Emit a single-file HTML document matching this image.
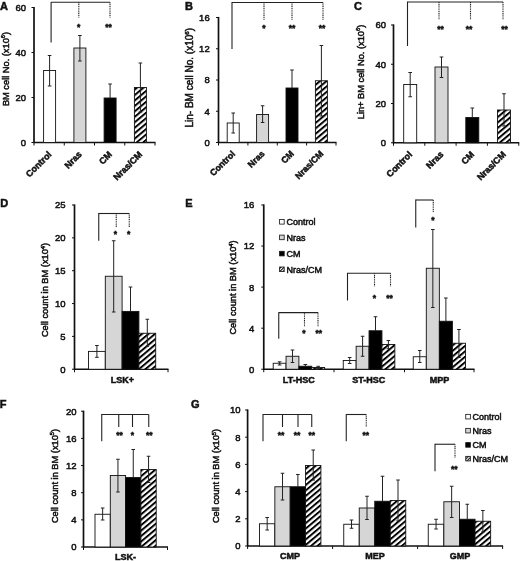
<!DOCTYPE html>
<html lang="en">
<head>
<meta charset="utf-8">
<title>Figure</title>
<style>
html,body{margin:0;padding:0;background:#fff;}
body{width:520px;height:561px;overflow:hidden;}
svg{display:block;filter:blur(0.4px);}
svg text{font-family:"Liberation Sans", Arial, sans-serif;fill:#111;stroke:#111;stroke-width:0.5px;}
</style>
</head>
<body>
<svg width="520" height="561" viewBox="0 0 520 561">
<defs>
<pattern id="hatch" patternUnits="userSpaceOnUse" width="4.17" height="4.17" patternTransform="rotate(-40)">
<rect x="0" y="0" width="4.17" height="4.17" fill="#fff"/>
<rect x="0" y="0" width="4.17" height="1.95" fill="#000"/>
</pattern>
<pattern id="hatch2" patternUnits="userSpaceOnUse" width="2.2" height="2.2" patternTransform="rotate(-45)">
<rect x="0" y="0" width="2.2" height="2.2" fill="#fff"/>
<rect x="0" y="0" width="2.2" height="1" fill="#000"/>
</pattern>
</defs>
<rect x="0" y="0" width="520" height="561" fill="#fff"/>
<text x="0.00" y="10.00" font-size="11" font-weight="bold" text-anchor="start">A</text>
<text x="185.00" y="10.00" font-size="11" font-weight="bold" text-anchor="start">B</text>
<text x="354.00" y="10.00" font-size="11" font-weight="bold" text-anchor="start">C</text>
<text x="0.30" y="207.30" font-size="11" font-weight="bold" text-anchor="start">D</text>
<text x="185.30" y="207.30" font-size="11" font-weight="bold" text-anchor="start">E</text>
<text x="-0.30" y="407.70" font-size="11" font-weight="bold" text-anchor="start">F</text>
<text x="191.00" y="407.70" font-size="11" font-weight="bold" text-anchor="start">G</text>
<line x1="34.00" y1="6.90" x2="34.00" y2="143.10" stroke="#111" stroke-width="1.7" stroke-linecap="butt"/>
<line x1="31.50" y1="7.50" x2="34.00" y2="7.50" stroke="#111" stroke-width="1.0" stroke-linecap="butt"/>
<text x="26.00" y="10.92" font-size="9.5" text-anchor="end">60</text>
<line x1="31.50" y1="52.50" x2="34.00" y2="52.50" stroke="#111" stroke-width="1.0" stroke-linecap="butt"/>
<text x="26.00" y="55.92" font-size="9.5" text-anchor="end">40</text>
<line x1="31.50" y1="97.50" x2="34.00" y2="97.50" stroke="#111" stroke-width="1.0" stroke-linecap="butt"/>
<text x="26.00" y="100.92" font-size="9.5" text-anchor="end">20</text>
<line x1="31.50" y1="142.50" x2="34.00" y2="142.50" stroke="#111" stroke-width="1.0" stroke-linecap="butt"/>
<text x="26.00" y="145.92" font-size="9.5" text-anchor="end">0</text>
<line x1="33.40" y1="142.50" x2="155.50" y2="142.50" stroke="#111" stroke-width="1.7" stroke-linecap="butt"/>
<line x1="34.00" y1="142.50" x2="34.00" y2="145.50" stroke="#111" stroke-width="1.0" stroke-linecap="butt"/>
<line x1="64.25" y1="142.50" x2="64.25" y2="145.50" stroke="#111" stroke-width="1.0" stroke-linecap="butt"/>
<line x1="94.50" y1="142.50" x2="94.50" y2="145.50" stroke="#111" stroke-width="1.0" stroke-linecap="butt"/>
<line x1="124.75" y1="142.50" x2="124.75" y2="145.50" stroke="#111" stroke-width="1.0" stroke-linecap="butt"/>
<line x1="155.00" y1="142.50" x2="155.00" y2="145.50" stroke="#111" stroke-width="1.0" stroke-linecap="butt"/>
<text x="8.70" y="69.00" font-size="9.25" text-anchor="middle" transform="rotate(-90 8.70 69.00)">BM cell No. (x10<tspan font-size="5.74" dy="-3.2">6</tspan><tspan dy="3.2">)</tspan></text>
<rect x="43.60" y="70.50" width="12.00" height="72.00" fill="#fff" stroke="#111" stroke-width="0.9"/>
<rect x="73.90" y="48.00" width="12.00" height="94.50" fill="#d6d6d6" stroke="#111" stroke-width="0.9"/>
<rect x="104.10" y="98.00" width="12.00" height="44.50" fill="#000" stroke="#111" stroke-width="0.9"/>
<rect x="134.40" y="87.50" width="12.00" height="55.00" fill="url(#hatch)" stroke="#111" stroke-width="0.9"/>
<line x1="49.60" y1="55.50" x2="49.60" y2="86.00" stroke="#222" stroke-width="1.0" stroke-linecap="butt"/>
<line x1="47.80" y1="55.50" x2="51.40" y2="55.50" stroke="#222" stroke-width="1.0" stroke-linecap="butt"/>
<line x1="47.80" y1="86.00" x2="51.40" y2="86.00" stroke="#222" stroke-width="1.0" stroke-linecap="butt"/>
<line x1="79.90" y1="35.50" x2="79.90" y2="61.00" stroke="#222" stroke-width="1.0" stroke-linecap="butt"/>
<line x1="78.10" y1="35.50" x2="81.70" y2="35.50" stroke="#222" stroke-width="1.0" stroke-linecap="butt"/>
<line x1="78.10" y1="61.00" x2="81.70" y2="61.00" stroke="#222" stroke-width="1.0" stroke-linecap="butt"/>
<line x1="110.10" y1="84.00" x2="110.10" y2="98.00" stroke="#222" stroke-width="1.0" stroke-linecap="butt"/>
<line x1="108.30" y1="84.00" x2="111.90" y2="84.00" stroke="#222" stroke-width="1.0" stroke-linecap="butt"/>
<line x1="140.40" y1="63.00" x2="140.40" y2="112.00" stroke="#222" stroke-width="1.0" stroke-linecap="butt"/>
<line x1="138.60" y1="63.00" x2="142.20" y2="63.00" stroke="#222" stroke-width="1.0" stroke-linecap="butt"/>
<line x1="138.60" y1="112.00" x2="142.20" y2="112.00" stroke="#222" stroke-width="1.0" stroke-linecap="butt"/>
<line x1="51.10" y1="2.30" x2="110.00" y2="2.30" stroke="#222" stroke-width="1.1" stroke-linecap="butt"/>
<line x1="51.10" y1="1.90" x2="51.10" y2="42.50" stroke="#222" stroke-width="1.1" stroke-linecap="butt"/>
<line x1="78.80" y1="2.30" x2="78.80" y2="17.50" stroke="#222" stroke-width="1.1" stroke-dasharray="1.1 0.7" stroke-linecap="butt"/>
<line x1="110.00" y1="2.30" x2="110.00" y2="17.50" stroke="#222" stroke-width="1.1" stroke-dasharray="1.1 0.7" stroke-linecap="butt"/>
<text x="78.60" y="30.10" font-size="8.5" font-weight="bold" text-anchor="middle" stroke-width="0">*</text>
<text x="108.50" y="30.10" font-size="8.5" font-weight="bold" text-anchor="middle" stroke-width="0">**</text>
<text x="52.10" y="155.00" font-size="9" font-weight="bold" text-anchor="end" transform="rotate(-45 52.10 155.00)">Control</text>
<text x="82.40" y="155.00" font-size="9" font-weight="bold" text-anchor="end" transform="rotate(-45 82.40 155.00)">Nras</text>
<text x="112.60" y="155.00" font-size="9" font-weight="bold" text-anchor="end" transform="rotate(-45 112.60 155.00)">CM</text>
<text x="142.90" y="155.00" font-size="9" font-weight="bold" text-anchor="end" transform="rotate(-45 142.90 155.00)">Nras/CM</text>
<line x1="218.50" y1="16.90" x2="218.50" y2="143.10" stroke="#111" stroke-width="1.7" stroke-linecap="butt"/>
<line x1="216.00" y1="17.50" x2="218.50" y2="17.50" stroke="#111" stroke-width="1.0" stroke-linecap="butt"/>
<text x="209.70" y="20.92" font-size="9.5" text-anchor="end">16</text>
<line x1="216.00" y1="48.75" x2="218.50" y2="48.75" stroke="#111" stroke-width="1.0" stroke-linecap="butt"/>
<text x="209.70" y="52.17" font-size="9.5" text-anchor="end">12</text>
<line x1="216.00" y1="80.00" x2="218.50" y2="80.00" stroke="#111" stroke-width="1.0" stroke-linecap="butt"/>
<text x="209.70" y="83.42" font-size="9.5" text-anchor="end">8</text>
<line x1="216.00" y1="111.25" x2="218.50" y2="111.25" stroke="#111" stroke-width="1.0" stroke-linecap="butt"/>
<text x="209.70" y="114.67" font-size="9.5" text-anchor="end">4</text>
<line x1="216.00" y1="142.50" x2="218.50" y2="142.50" stroke="#111" stroke-width="1.0" stroke-linecap="butt"/>
<text x="209.70" y="145.92" font-size="9.5" text-anchor="end">0</text>
<line x1="217.90" y1="142.50" x2="336.50" y2="142.50" stroke="#111" stroke-width="1.7" stroke-linecap="butt"/>
<line x1="218.50" y1="142.50" x2="218.50" y2="145.50" stroke="#111" stroke-width="1.0" stroke-linecap="butt"/>
<line x1="247.90" y1="142.50" x2="247.90" y2="145.50" stroke="#111" stroke-width="1.0" stroke-linecap="butt"/>
<line x1="277.30" y1="142.50" x2="277.30" y2="145.50" stroke="#111" stroke-width="1.0" stroke-linecap="butt"/>
<line x1="306.60" y1="142.50" x2="306.60" y2="145.50" stroke="#111" stroke-width="1.0" stroke-linecap="butt"/>
<line x1="336.00" y1="142.50" x2="336.00" y2="145.50" stroke="#111" stroke-width="1.0" stroke-linecap="butt"/>
<text x="192.70" y="77.75" font-size="10" text-anchor="middle" transform="rotate(-90 192.70 77.75)">Lin- BM cell No. (x10<tspan font-size="6.20" dy="-3.2">6</tspan><tspan dy="3.2">)</tspan></text>
<rect x="227.20" y="123.00" width="12.00" height="19.50" fill="#fff" stroke="#111" stroke-width="0.9"/>
<rect x="256.60" y="114.50" width="12.00" height="28.00" fill="#d6d6d6" stroke="#111" stroke-width="0.9"/>
<rect x="286.00" y="88.00" width="12.00" height="54.50" fill="#000" stroke="#111" stroke-width="0.9"/>
<rect x="315.40" y="80.75" width="12.00" height="61.75" fill="url(#hatch)" stroke="#111" stroke-width="0.9"/>
<line x1="233.20" y1="113.00" x2="233.20" y2="133.00" stroke="#222" stroke-width="1.0" stroke-linecap="butt"/>
<line x1="231.40" y1="113.00" x2="235.00" y2="113.00" stroke="#222" stroke-width="1.0" stroke-linecap="butt"/>
<line x1="231.40" y1="133.00" x2="235.00" y2="133.00" stroke="#222" stroke-width="1.0" stroke-linecap="butt"/>
<line x1="262.60" y1="105.75" x2="262.60" y2="122.50" stroke="#222" stroke-width="1.0" stroke-linecap="butt"/>
<line x1="260.80" y1="105.75" x2="264.40" y2="105.75" stroke="#222" stroke-width="1.0" stroke-linecap="butt"/>
<line x1="260.80" y1="122.50" x2="264.40" y2="122.50" stroke="#222" stroke-width="1.0" stroke-linecap="butt"/>
<line x1="292.00" y1="70.00" x2="292.00" y2="88.00" stroke="#222" stroke-width="1.0" stroke-linecap="butt"/>
<line x1="290.20" y1="70.00" x2="293.80" y2="70.00" stroke="#222" stroke-width="1.0" stroke-linecap="butt"/>
<line x1="321.40" y1="45.50" x2="321.40" y2="116.00" stroke="#222" stroke-width="1.0" stroke-linecap="butt"/>
<line x1="319.60" y1="45.50" x2="323.20" y2="45.50" stroke="#222" stroke-width="1.0" stroke-linecap="butt"/>
<line x1="319.60" y1="116.00" x2="323.20" y2="116.00" stroke="#222" stroke-width="1.0" stroke-linecap="butt"/>
<line x1="232.00" y1="2.50" x2="323.00" y2="2.50" stroke="#222" stroke-width="1.1" stroke-linecap="butt"/>
<line x1="232.00" y1="2.10" x2="232.00" y2="49.00" stroke="#222" stroke-width="1.1" stroke-linecap="butt"/>
<line x1="264.00" y1="2.50" x2="264.00" y2="20.00" stroke="#222" stroke-width="1.1" stroke-dasharray="1.1 0.7" stroke-linecap="butt"/>
<line x1="292.00" y1="2.50" x2="292.00" y2="20.00" stroke="#222" stroke-width="1.1" stroke-dasharray="1.1 0.7" stroke-linecap="butt"/>
<line x1="323.00" y1="2.50" x2="323.00" y2="20.00" stroke="#222" stroke-width="1.1" stroke-dasharray="1.1 0.7" stroke-linecap="butt"/>
<text x="264.00" y="30.60" font-size="8.5" font-weight="bold" text-anchor="middle" stroke-width="0">*</text>
<text x="292.00" y="30.60" font-size="8.5" font-weight="bold" text-anchor="middle" stroke-width="0">**</text>
<text x="322.00" y="30.60" font-size="8.5" font-weight="bold" text-anchor="middle" stroke-width="0">**</text>
<text x="235.70" y="154.40" font-size="8.8" font-weight="bold" text-anchor="end" transform="rotate(-45 235.70 154.40)">Control</text>
<text x="265.10" y="154.40" font-size="8.8" font-weight="bold" text-anchor="end" transform="rotate(-45 265.10 154.40)">Nras</text>
<text x="294.50" y="154.40" font-size="8.8" font-weight="bold" text-anchor="end" transform="rotate(-45 294.50 154.40)">CM</text>
<text x="323.90" y="154.40" font-size="8.8" font-weight="bold" text-anchor="end" transform="rotate(-45 323.90 154.40)">Nras/CM</text>
<line x1="393.50" y1="24.40" x2="393.50" y2="143.35" stroke="#111" stroke-width="1.7" stroke-linecap="butt"/>
<line x1="391.00" y1="25.00" x2="393.50" y2="25.00" stroke="#111" stroke-width="1.0" stroke-linecap="butt"/>
<text x="386.00" y="28.42" font-size="9.5" text-anchor="end">60</text>
<line x1="391.00" y1="64.25" x2="393.50" y2="64.25" stroke="#111" stroke-width="1.0" stroke-linecap="butt"/>
<text x="386.00" y="67.67" font-size="9.5" text-anchor="end">40</text>
<line x1="391.00" y1="103.50" x2="393.50" y2="103.50" stroke="#111" stroke-width="1.0" stroke-linecap="butt"/>
<text x="386.00" y="106.92" font-size="9.5" text-anchor="end">20</text>
<line x1="391.00" y1="142.75" x2="393.50" y2="142.75" stroke="#111" stroke-width="1.0" stroke-linecap="butt"/>
<text x="386.00" y="146.17" font-size="9.5" text-anchor="end">0</text>
<line x1="392.90" y1="142.75" x2="519.25" y2="142.75" stroke="#111" stroke-width="1.7" stroke-linecap="butt"/>
<line x1="393.50" y1="142.75" x2="393.50" y2="145.75" stroke="#111" stroke-width="1.0" stroke-linecap="butt"/>
<line x1="424.80" y1="142.75" x2="424.80" y2="145.75" stroke="#111" stroke-width="1.0" stroke-linecap="butt"/>
<line x1="456.10" y1="142.75" x2="456.10" y2="145.75" stroke="#111" stroke-width="1.0" stroke-linecap="butt"/>
<line x1="487.40" y1="142.75" x2="487.40" y2="145.75" stroke="#111" stroke-width="1.0" stroke-linecap="butt"/>
<line x1="518.75" y1="142.75" x2="518.75" y2="145.75" stroke="#111" stroke-width="1.0" stroke-linecap="butt"/>
<text x="363.50" y="72.00" font-size="9.25" text-anchor="middle" transform="rotate(-90 363.50 72.00)">Lin+ BM cell No. (x10<tspan font-size="5.74" dy="-3.2">6</tspan><tspan dy="3.2">)</tspan></text>
<rect x="403.70" y="84.50" width="13.00" height="58.25" fill="#fff" stroke="#111" stroke-width="0.9"/>
<rect x="435.00" y="67.00" width="13.00" height="75.75" fill="#d6d6d6" stroke="#111" stroke-width="0.9"/>
<rect x="465.80" y="117.50" width="13.00" height="25.25" fill="#000" stroke="#111" stroke-width="0.9"/>
<rect x="497.50" y="110.00" width="13.00" height="32.75" fill="url(#hatch)" stroke="#111" stroke-width="0.9"/>
<line x1="410.20" y1="72.50" x2="410.20" y2="96.75" stroke="#222" stroke-width="1.0" stroke-linecap="butt"/>
<line x1="408.40" y1="72.50" x2="412.00" y2="72.50" stroke="#222" stroke-width="1.0" stroke-linecap="butt"/>
<line x1="408.40" y1="96.75" x2="412.00" y2="96.75" stroke="#222" stroke-width="1.0" stroke-linecap="butt"/>
<line x1="441.50" y1="57.00" x2="441.50" y2="77.50" stroke="#222" stroke-width="1.0" stroke-linecap="butt"/>
<line x1="439.70" y1="57.00" x2="443.30" y2="57.00" stroke="#222" stroke-width="1.0" stroke-linecap="butt"/>
<line x1="439.70" y1="77.50" x2="443.30" y2="77.50" stroke="#222" stroke-width="1.0" stroke-linecap="butt"/>
<line x1="472.30" y1="108.00" x2="472.30" y2="117.50" stroke="#222" stroke-width="1.0" stroke-linecap="butt"/>
<line x1="470.50" y1="108.00" x2="474.10" y2="108.00" stroke="#222" stroke-width="1.0" stroke-linecap="butt"/>
<line x1="504.00" y1="93.75" x2="504.00" y2="126.00" stroke="#222" stroke-width="1.0" stroke-linecap="butt"/>
<line x1="502.20" y1="93.75" x2="505.80" y2="93.75" stroke="#222" stroke-width="1.0" stroke-linecap="butt"/>
<line x1="502.20" y1="126.00" x2="505.80" y2="126.00" stroke="#222" stroke-width="1.0" stroke-linecap="butt"/>
<line x1="407.50" y1="2.00" x2="503.00" y2="2.00" stroke="#222" stroke-width="1.1" stroke-linecap="butt"/>
<line x1="407.50" y1="1.60" x2="407.50" y2="46.00" stroke="#222" stroke-width="1.1" stroke-linecap="butt"/>
<line x1="439.00" y1="2.00" x2="439.00" y2="19.50" stroke="#222" stroke-width="1.1" stroke-dasharray="1.1 0.7" stroke-linecap="butt"/>
<line x1="470.50" y1="2.00" x2="470.50" y2="19.50" stroke="#222" stroke-width="1.1" stroke-dasharray="1.1 0.7" stroke-linecap="butt"/>
<line x1="503.00" y1="2.00" x2="503.00" y2="19.50" stroke="#222" stroke-width="1.1" stroke-dasharray="1.1 0.7" stroke-linecap="butt"/>
<text x="440.50" y="31.60" font-size="8.5" font-weight="bold" text-anchor="middle" stroke-width="0">**</text>
<text x="469.00" y="31.60" font-size="8.5" font-weight="bold" text-anchor="middle" stroke-width="0">**</text>
<text x="504.50" y="31.60" font-size="8.5" font-weight="bold" text-anchor="middle" stroke-width="0">**</text>
<text x="412.70" y="155.00" font-size="9" font-weight="bold" text-anchor="end" transform="rotate(-45 412.70 155.00)">Control</text>
<text x="444.00" y="155.00" font-size="9" font-weight="bold" text-anchor="end" transform="rotate(-45 444.00 155.00)">Nras</text>
<text x="474.80" y="155.00" font-size="9" font-weight="bold" text-anchor="end" transform="rotate(-45 474.80 155.00)">CM</text>
<text x="506.50" y="155.00" font-size="9" font-weight="bold" text-anchor="end" transform="rotate(-45 506.50 155.00)">Nras/CM</text>
<line x1="74.50" y1="204.40" x2="74.50" y2="369.85" stroke="#111" stroke-width="1.7" stroke-linecap="butt"/>
<line x1="72.00" y1="205.00" x2="74.50" y2="205.00" stroke="#111" stroke-width="1.0" stroke-linecap="butt"/>
<text x="65.50" y="208.42" font-size="9.5" text-anchor="end">25</text>
<line x1="72.00" y1="237.85" x2="74.50" y2="237.85" stroke="#111" stroke-width="1.0" stroke-linecap="butt"/>
<text x="65.50" y="241.27" font-size="9.5" text-anchor="end">20</text>
<line x1="72.00" y1="270.70" x2="74.50" y2="270.70" stroke="#111" stroke-width="1.0" stroke-linecap="butt"/>
<text x="65.50" y="274.12" font-size="9.5" text-anchor="end">15</text>
<line x1="72.00" y1="303.55" x2="74.50" y2="303.55" stroke="#111" stroke-width="1.0" stroke-linecap="butt"/>
<text x="65.50" y="306.97" font-size="9.5" text-anchor="end">10</text>
<line x1="72.00" y1="336.40" x2="74.50" y2="336.40" stroke="#111" stroke-width="1.0" stroke-linecap="butt"/>
<text x="65.50" y="339.82" font-size="9.5" text-anchor="end">5</text>
<line x1="72.00" y1="369.25" x2="74.50" y2="369.25" stroke="#111" stroke-width="1.0" stroke-linecap="butt"/>
<text x="65.50" y="372.67" font-size="9.5" text-anchor="end">0</text>
<line x1="73.90" y1="369.25" x2="168.50" y2="369.25" stroke="#111" stroke-width="1.7" stroke-linecap="butt"/>
<line x1="74.50" y1="369.25" x2="74.50" y2="372.25" stroke="#111" stroke-width="1.0" stroke-linecap="butt"/>
<line x1="168.00" y1="369.25" x2="168.00" y2="372.25" stroke="#111" stroke-width="1.0" stroke-linecap="butt"/>
<text x="48.00" y="290.00" font-size="9.25" text-anchor="middle" transform="rotate(-90 48.00 290.00)">Cell count in BM (x10<tspan font-size="5.74" dy="-3.2">4</tspan><tspan dy="3.2">)</tspan></text>
<rect x="88.50" y="351.40" width="16.80" height="17.85" fill="#fff" stroke="#111" stroke-width="0.9"/>
<rect x="105.30" y="276.25" width="16.80" height="93.00" fill="#d6d6d6" stroke="#111" stroke-width="0.9"/>
<rect x="122.10" y="311.40" width="16.80" height="57.85" fill="#000" stroke="#111" stroke-width="0.9"/>
<rect x="138.90" y="333.25" width="16.80" height="36.00" fill="url(#hatch)" stroke="#111" stroke-width="0.9"/>
<line x1="96.90" y1="345.50" x2="96.90" y2="357.30" stroke="#222" stroke-width="1.0" stroke-linecap="butt"/>
<line x1="95.10" y1="345.50" x2="98.70" y2="345.50" stroke="#222" stroke-width="1.0" stroke-linecap="butt"/>
<line x1="95.10" y1="357.30" x2="98.70" y2="357.30" stroke="#222" stroke-width="1.0" stroke-linecap="butt"/>
<line x1="113.70" y1="240.75" x2="113.70" y2="312.00" stroke="#222" stroke-width="1.0" stroke-linecap="butt"/>
<line x1="111.90" y1="240.75" x2="115.50" y2="240.75" stroke="#222" stroke-width="1.0" stroke-linecap="butt"/>
<line x1="111.90" y1="312.00" x2="115.50" y2="312.00" stroke="#222" stroke-width="1.0" stroke-linecap="butt"/>
<line x1="130.50" y1="287.00" x2="130.50" y2="311.40" stroke="#222" stroke-width="1.0" stroke-linecap="butt"/>
<line x1="128.70" y1="287.00" x2="132.30" y2="287.00" stroke="#222" stroke-width="1.0" stroke-linecap="butt"/>
<line x1="147.30" y1="319.25" x2="147.30" y2="346.25" stroke="#222" stroke-width="1.0" stroke-linecap="butt"/>
<line x1="145.50" y1="319.25" x2="149.10" y2="319.25" stroke="#222" stroke-width="1.0" stroke-linecap="butt"/>
<line x1="145.50" y1="346.25" x2="149.10" y2="346.25" stroke="#222" stroke-width="1.0" stroke-linecap="butt"/>
<line x1="98.75" y1="213.50" x2="129.25" y2="213.50" stroke="#222" stroke-width="1.1" stroke-linecap="butt"/>
<line x1="98.75" y1="213.10" x2="98.75" y2="240.75" stroke="#222" stroke-width="1.1" stroke-linecap="butt"/>
<line x1="116.25" y1="213.50" x2="116.25" y2="227.00" stroke="#222" stroke-width="1.1" stroke-dasharray="1.1 0.7" stroke-linecap="butt"/>
<line x1="129.25" y1="213.50" x2="129.25" y2="227.00" stroke="#222" stroke-width="1.1" stroke-dasharray="1.1 0.7" stroke-linecap="butt"/>
<text x="115.50" y="237.10" font-size="8.5" font-weight="bold" text-anchor="middle" stroke-width="0">*</text>
<text x="128.75" y="237.10" font-size="8.5" font-weight="bold" text-anchor="middle" stroke-width="0">*</text>
<text x="122.50" y="383.30" font-size="9" font-weight="bold" text-anchor="middle">LSK+</text>
<line x1="263.75" y1="204.40" x2="263.75" y2="369.85" stroke="#111" stroke-width="1.7" stroke-linecap="butt"/>
<line x1="261.25" y1="205.00" x2="263.75" y2="205.00" stroke="#111" stroke-width="1.0" stroke-linecap="butt"/>
<text x="254.30" y="208.42" font-size="9.5" text-anchor="end">16</text>
<line x1="261.25" y1="246.05" x2="263.75" y2="246.05" stroke="#111" stroke-width="1.0" stroke-linecap="butt"/>
<text x="254.30" y="249.47" font-size="9.5" text-anchor="end">12</text>
<line x1="261.25" y1="287.10" x2="263.75" y2="287.10" stroke="#111" stroke-width="1.0" stroke-linecap="butt"/>
<text x="254.30" y="290.52" font-size="9.5" text-anchor="end">8</text>
<line x1="261.25" y1="328.20" x2="263.75" y2="328.20" stroke="#111" stroke-width="1.0" stroke-linecap="butt"/>
<text x="254.30" y="331.62" font-size="9.5" text-anchor="end">4</text>
<line x1="261.25" y1="369.25" x2="263.75" y2="369.25" stroke="#111" stroke-width="1.0" stroke-linecap="butt"/>
<text x="254.30" y="372.67" font-size="9.5" text-anchor="end">0</text>
<line x1="263.15" y1="369.25" x2="474.50" y2="369.25" stroke="#111" stroke-width="1.7" stroke-linecap="butt"/>
<line x1="263.75" y1="369.25" x2="263.75" y2="372.25" stroke="#111" stroke-width="1.0" stroke-linecap="butt"/>
<line x1="334.00" y1="369.25" x2="334.00" y2="372.25" stroke="#111" stroke-width="1.0" stroke-linecap="butt"/>
<line x1="404.50" y1="369.25" x2="404.50" y2="372.25" stroke="#111" stroke-width="1.0" stroke-linecap="butt"/>
<line x1="474.00" y1="369.25" x2="474.00" y2="372.25" stroke="#111" stroke-width="1.0" stroke-linecap="butt"/>
<text x="236.30" y="287.50" font-size="9.25" text-anchor="middle" transform="rotate(-90 236.30 287.50)">Cell count in BM (x10<tspan font-size="5.74" dy="-3.2">4</tspan><tspan dy="3.2">)</tspan></text>
<rect x="279.60" y="219.50" width="4.6" height="4.6" fill="#fff" stroke="#111" stroke-width="0.8"/>
<text x="286.50" y="225.14" font-size="9" text-anchor="start">Control</text>
<rect x="279.60" y="235.10" width="4.6" height="4.6" fill="#d6d6d6" stroke="#111" stroke-width="0.8"/>
<text x="286.50" y="240.74" font-size="9" text-anchor="start">Nras</text>
<rect x="279.60" y="251.30" width="4.6" height="4.6" fill="#000" stroke="#111" stroke-width="0.8"/>
<text x="286.50" y="256.94" font-size="9" text-anchor="start">CM</text>
<rect x="279.60" y="267.00" width="4.6" height="4.6" fill="url(#hatch2)" stroke="#111" stroke-width="0.8"/>
<text x="286.50" y="272.64" font-size="9" text-anchor="start">Nras/CM</text>
<rect x="273.20" y="363.25" width="12.85" height="6.00" fill="#fff" stroke="#111" stroke-width="0.9"/>
<rect x="286.05" y="356.25" width="12.85" height="13.00" fill="#d6d6d6" stroke="#111" stroke-width="0.9"/>
<rect x="298.90" y="366.25" width="12.85" height="3.00" fill="#000" stroke="#111" stroke-width="0.9"/>
<rect x="311.75" y="367.50" width="12.85" height="1.75" fill="url(#hatch)" stroke="#111" stroke-width="0.9"/>
<line x1="279.62" y1="361.80" x2="279.62" y2="365.00" stroke="#222" stroke-width="1.0" stroke-linecap="butt"/>
<line x1="277.82" y1="361.80" x2="281.43" y2="361.80" stroke="#222" stroke-width="1.0" stroke-linecap="butt"/>
<line x1="277.82" y1="365.00" x2="281.43" y2="365.00" stroke="#222" stroke-width="1.0" stroke-linecap="butt"/>
<line x1="292.48" y1="350.00" x2="292.48" y2="362.50" stroke="#222" stroke-width="1.0" stroke-linecap="butt"/>
<line x1="290.68" y1="350.00" x2="294.28" y2="350.00" stroke="#222" stroke-width="1.0" stroke-linecap="butt"/>
<line x1="290.68" y1="362.50" x2="294.28" y2="362.50" stroke="#222" stroke-width="1.0" stroke-linecap="butt"/>
<line x1="305.32" y1="364.50" x2="305.32" y2="366.25" stroke="#222" stroke-width="1.0" stroke-linecap="butt"/>
<line x1="303.52" y1="364.50" x2="307.12" y2="364.50" stroke="#222" stroke-width="1.0" stroke-linecap="butt"/>
<line x1="318.18" y1="366.30" x2="318.18" y2="368.60" stroke="#222" stroke-width="1.0" stroke-linecap="butt"/>
<line x1="316.38" y1="366.30" x2="319.98" y2="366.30" stroke="#222" stroke-width="1.0" stroke-linecap="butt"/>
<line x1="316.38" y1="368.60" x2="319.98" y2="368.60" stroke="#222" stroke-width="1.0" stroke-linecap="butt"/>
<rect x="343.25" y="360.50" width="12.90" height="8.75" fill="#fff" stroke="#111" stroke-width="0.9"/>
<rect x="356.15" y="346.25" width="12.90" height="23.00" fill="#d6d6d6" stroke="#111" stroke-width="0.9"/>
<rect x="369.05" y="330.75" width="12.90" height="38.50" fill="#000" stroke="#111" stroke-width="0.9"/>
<rect x="381.95" y="344.50" width="12.90" height="24.75" fill="url(#hatch)" stroke="#111" stroke-width="0.9"/>
<line x1="349.70" y1="357.50" x2="349.70" y2="363.50" stroke="#222" stroke-width="1.0" stroke-linecap="butt"/>
<line x1="347.90" y1="357.50" x2="351.50" y2="357.50" stroke="#222" stroke-width="1.0" stroke-linecap="butt"/>
<line x1="347.90" y1="363.50" x2="351.50" y2="363.50" stroke="#222" stroke-width="1.0" stroke-linecap="butt"/>
<line x1="362.60" y1="336.25" x2="362.60" y2="356.25" stroke="#222" stroke-width="1.0" stroke-linecap="butt"/>
<line x1="360.80" y1="336.25" x2="364.40" y2="336.25" stroke="#222" stroke-width="1.0" stroke-linecap="butt"/>
<line x1="360.80" y1="356.25" x2="364.40" y2="356.25" stroke="#222" stroke-width="1.0" stroke-linecap="butt"/>
<line x1="375.50" y1="316.75" x2="375.50" y2="330.75" stroke="#222" stroke-width="1.0" stroke-linecap="butt"/>
<line x1="373.70" y1="316.75" x2="377.30" y2="316.75" stroke="#222" stroke-width="1.0" stroke-linecap="butt"/>
<line x1="388.40" y1="340.50" x2="388.40" y2="348.75" stroke="#222" stroke-width="1.0" stroke-linecap="butt"/>
<line x1="386.60" y1="340.50" x2="390.20" y2="340.50" stroke="#222" stroke-width="1.0" stroke-linecap="butt"/>
<line x1="386.60" y1="348.75" x2="390.20" y2="348.75" stroke="#222" stroke-width="1.0" stroke-linecap="butt"/>
<rect x="413.25" y="356.75" width="13.05" height="12.50" fill="#fff" stroke="#111" stroke-width="0.9"/>
<rect x="426.30" y="268.25" width="13.05" height="101.00" fill="#d6d6d6" stroke="#111" stroke-width="0.9"/>
<rect x="439.35" y="321.25" width="13.05" height="48.00" fill="#000" stroke="#111" stroke-width="0.9"/>
<rect x="452.40" y="343.25" width="13.05" height="26.00" fill="url(#hatch)" stroke="#111" stroke-width="0.9"/>
<line x1="419.77" y1="350.50" x2="419.77" y2="362.50" stroke="#222" stroke-width="1.0" stroke-linecap="butt"/>
<line x1="417.97" y1="350.50" x2="421.57" y2="350.50" stroke="#222" stroke-width="1.0" stroke-linecap="butt"/>
<line x1="417.97" y1="362.50" x2="421.57" y2="362.50" stroke="#222" stroke-width="1.0" stroke-linecap="butt"/>
<line x1="432.83" y1="229.50" x2="432.83" y2="307.50" stroke="#222" stroke-width="1.0" stroke-linecap="butt"/>
<line x1="431.03" y1="229.50" x2="434.63" y2="229.50" stroke="#222" stroke-width="1.0" stroke-linecap="butt"/>
<line x1="431.03" y1="307.50" x2="434.63" y2="307.50" stroke="#222" stroke-width="1.0" stroke-linecap="butt"/>
<line x1="445.88" y1="298.00" x2="445.88" y2="321.25" stroke="#222" stroke-width="1.0" stroke-linecap="butt"/>
<line x1="444.07" y1="298.00" x2="447.68" y2="298.00" stroke="#222" stroke-width="1.0" stroke-linecap="butt"/>
<line x1="458.92" y1="329.50" x2="458.92" y2="357.50" stroke="#222" stroke-width="1.0" stroke-linecap="butt"/>
<line x1="457.12" y1="329.50" x2="460.72" y2="329.50" stroke="#222" stroke-width="1.0" stroke-linecap="butt"/>
<line x1="457.12" y1="357.50" x2="460.72" y2="357.50" stroke="#222" stroke-width="1.0" stroke-linecap="butt"/>
<line x1="278.75" y1="312.60" x2="318.00" y2="312.60" stroke="#222" stroke-width="1.1" stroke-linecap="butt"/>
<line x1="278.75" y1="312.20" x2="278.75" y2="338.75" stroke="#222" stroke-width="1.1" stroke-linecap="butt"/>
<line x1="304.50" y1="312.60" x2="304.50" y2="326.25" stroke="#222" stroke-width="1.1" stroke-dasharray="1.1 0.7" stroke-linecap="butt"/>
<line x1="318.00" y1="312.60" x2="318.00" y2="326.25" stroke="#222" stroke-width="1.1" stroke-dasharray="1.1 0.7" stroke-linecap="butt"/>
<text x="304.00" y="335.80" font-size="8.5" font-weight="bold" text-anchor="middle" stroke-width="0">*</text>
<text x="318.75" y="335.80" font-size="8.5" font-weight="bold" text-anchor="middle" stroke-width="0">**</text>
<line x1="347.50" y1="273.25" x2="390.50" y2="273.25" stroke="#222" stroke-width="1.1" stroke-linecap="butt"/>
<line x1="347.50" y1="272.85" x2="347.50" y2="300.50" stroke="#222" stroke-width="1.1" stroke-linecap="butt"/>
<line x1="374.50" y1="273.25" x2="374.50" y2="286.25" stroke="#222" stroke-width="1.1" stroke-dasharray="1.1 0.7" stroke-linecap="butt"/>
<line x1="390.50" y1="273.25" x2="390.50" y2="286.25" stroke="#222" stroke-width="1.1" stroke-dasharray="1.1 0.7" stroke-linecap="butt"/>
<text x="374.50" y="301.30" font-size="8.5" font-weight="bold" text-anchor="middle" stroke-width="0">*</text>
<text x="389.50" y="301.30" font-size="8.5" font-weight="bold" text-anchor="middle" stroke-width="0">**</text>
<line x1="415.75" y1="200.00" x2="433.25" y2="200.00" stroke="#222" stroke-width="1.1" stroke-linecap="butt"/>
<line x1="415.75" y1="199.60" x2="415.75" y2="227.50" stroke="#222" stroke-width="1.1" stroke-linecap="butt"/>
<line x1="433.25" y1="200.00" x2="433.25" y2="212.50" stroke="#222" stroke-width="1.1" stroke-dasharray="1.1 0.7" stroke-linecap="butt"/>
<text x="433.00" y="223.30" font-size="8.5" font-weight="bold" text-anchor="middle" stroke-width="0">*</text>
<text x="298.75" y="383.30" font-size="9" font-weight="bold" text-anchor="middle">LT-HSC</text>
<text x="368.75" y="383.30" font-size="9" font-weight="bold" text-anchor="middle">ST-HSC</text>
<text x="439.50" y="383.30" font-size="9" font-weight="bold" text-anchor="middle">MPP</text>
<line x1="83.50" y1="410.65" x2="83.50" y2="547.60" stroke="#111" stroke-width="1.7" stroke-linecap="butt"/>
<line x1="81.00" y1="411.25" x2="83.50" y2="411.25" stroke="#111" stroke-width="1.0" stroke-linecap="butt"/>
<text x="76.50" y="414.67" font-size="9.5" text-anchor="end">20</text>
<line x1="81.00" y1="438.40" x2="83.50" y2="438.40" stroke="#111" stroke-width="1.0" stroke-linecap="butt"/>
<text x="76.50" y="441.82" font-size="9.5" text-anchor="end">16</text>
<line x1="81.00" y1="465.55" x2="83.50" y2="465.55" stroke="#111" stroke-width="1.0" stroke-linecap="butt"/>
<text x="76.50" y="468.97" font-size="9.5" text-anchor="end">12</text>
<line x1="81.00" y1="492.70" x2="83.50" y2="492.70" stroke="#111" stroke-width="1.0" stroke-linecap="butt"/>
<text x="76.50" y="496.12" font-size="9.5" text-anchor="end">8</text>
<line x1="81.00" y1="519.85" x2="83.50" y2="519.85" stroke="#111" stroke-width="1.0" stroke-linecap="butt"/>
<text x="76.50" y="523.27" font-size="9.5" text-anchor="end">4</text>
<line x1="81.00" y1="547.00" x2="83.50" y2="547.00" stroke="#111" stroke-width="1.0" stroke-linecap="butt"/>
<text x="76.50" y="550.42" font-size="9.5" text-anchor="end">0</text>
<line x1="82.90" y1="547.00" x2="168.00" y2="547.00" stroke="#111" stroke-width="1.7" stroke-linecap="butt"/>
<line x1="83.50" y1="547.00" x2="83.50" y2="550.00" stroke="#111" stroke-width="1.0" stroke-linecap="butt"/>
<line x1="167.50" y1="547.00" x2="167.50" y2="550.00" stroke="#111" stroke-width="1.0" stroke-linecap="butt"/>
<text x="57.50" y="476.00" font-size="9.25" text-anchor="middle" transform="rotate(-90 57.50 476.00)">Cell count in BM (x10<tspan font-size="5.74" dy="-3.2">5</tspan><tspan dy="3.2">)</tspan></text>
<rect x="95.00" y="514.25" width="15.30" height="32.75" fill="#fff" stroke="#111" stroke-width="0.9"/>
<rect x="110.30" y="475.50" width="15.30" height="71.50" fill="#d6d6d6" stroke="#111" stroke-width="0.9"/>
<rect x="125.60" y="477.50" width="15.30" height="69.50" fill="#000" stroke="#111" stroke-width="0.9"/>
<rect x="140.90" y="469.50" width="15.30" height="77.50" fill="url(#hatch)" stroke="#111" stroke-width="0.9"/>
<line x1="102.65" y1="508.00" x2="102.65" y2="520.00" stroke="#222" stroke-width="1.0" stroke-linecap="butt"/>
<line x1="100.85" y1="508.00" x2="104.45" y2="508.00" stroke="#222" stroke-width="1.0" stroke-linecap="butt"/>
<line x1="100.85" y1="520.00" x2="104.45" y2="520.00" stroke="#222" stroke-width="1.0" stroke-linecap="butt"/>
<line x1="117.95" y1="459.25" x2="117.95" y2="492.00" stroke="#222" stroke-width="1.0" stroke-linecap="butt"/>
<line x1="116.15" y1="459.25" x2="119.75" y2="459.25" stroke="#222" stroke-width="1.0" stroke-linecap="butt"/>
<line x1="116.15" y1="492.00" x2="119.75" y2="492.00" stroke="#222" stroke-width="1.0" stroke-linecap="butt"/>
<line x1="133.25" y1="449.50" x2="133.25" y2="477.50" stroke="#222" stroke-width="1.0" stroke-linecap="butt"/>
<line x1="131.45" y1="449.50" x2="135.05" y2="449.50" stroke="#222" stroke-width="1.0" stroke-linecap="butt"/>
<line x1="148.55" y1="456.25" x2="148.55" y2="482.50" stroke="#222" stroke-width="1.0" stroke-linecap="butt"/>
<line x1="146.75" y1="456.25" x2="150.35" y2="456.25" stroke="#222" stroke-width="1.0" stroke-linecap="butt"/>
<line x1="146.75" y1="482.50" x2="150.35" y2="482.50" stroke="#222" stroke-width="1.0" stroke-linecap="butt"/>
<line x1="101.75" y1="414.50" x2="148.75" y2="414.50" stroke="#222" stroke-width="1.1" stroke-linecap="butt"/>
<line x1="101.75" y1="414.10" x2="101.75" y2="441.25" stroke="#222" stroke-width="1.1" stroke-linecap="butt"/>
<line x1="118.75" y1="414.50" x2="118.75" y2="427.00" stroke="#222" stroke-width="1.1" stroke-linecap="butt"/>
<line x1="132.50" y1="414.50" x2="132.50" y2="427.00" stroke="#222" stroke-width="1.1" stroke-linecap="butt"/>
<line x1="148.75" y1="414.50" x2="148.75" y2="427.00" stroke="#222" stroke-width="1.1" stroke-linecap="butt"/>
<text x="119.50" y="438.30" font-size="8.5" font-weight="bold" text-anchor="middle" stroke-width="0">**</text>
<text x="132.50" y="438.30" font-size="8.5" font-weight="bold" text-anchor="middle" stroke-width="0">*</text>
<text x="149.25" y="438.30" font-size="8.5" font-weight="bold" text-anchor="middle" stroke-width="0">**</text>
<text x="125.60" y="560.20" font-size="9" font-weight="bold" text-anchor="middle">LSK-</text>
<line x1="247.60" y1="409.40" x2="247.60" y2="546.60" stroke="#111" stroke-width="1.7" stroke-linecap="butt"/>
<line x1="245.10" y1="410.00" x2="247.60" y2="410.00" stroke="#111" stroke-width="1.0" stroke-linecap="butt"/>
<text x="240.50" y="413.42" font-size="9.5" text-anchor="end">10</text>
<line x1="245.10" y1="437.20" x2="247.60" y2="437.20" stroke="#111" stroke-width="1.0" stroke-linecap="butt"/>
<text x="240.50" y="440.62" font-size="9.5" text-anchor="end">8</text>
<line x1="245.10" y1="464.40" x2="247.60" y2="464.40" stroke="#111" stroke-width="1.0" stroke-linecap="butt"/>
<text x="240.50" y="467.82" font-size="9.5" text-anchor="end">6</text>
<line x1="245.10" y1="491.60" x2="247.60" y2="491.60" stroke="#111" stroke-width="1.0" stroke-linecap="butt"/>
<text x="240.50" y="495.02" font-size="9.5" text-anchor="end">4</text>
<line x1="245.10" y1="518.80" x2="247.60" y2="518.80" stroke="#111" stroke-width="1.0" stroke-linecap="butt"/>
<text x="240.50" y="522.22" font-size="9.5" text-anchor="end">2</text>
<line x1="245.10" y1="546.00" x2="247.60" y2="546.00" stroke="#111" stroke-width="1.0" stroke-linecap="butt"/>
<text x="240.50" y="549.42" font-size="9.5" text-anchor="end">0</text>
<line x1="247.00" y1="546.00" x2="503.10" y2="546.00" stroke="#111" stroke-width="1.7" stroke-linecap="butt"/>
<line x1="247.60" y1="546.00" x2="247.60" y2="549.00" stroke="#111" stroke-width="1.0" stroke-linecap="butt"/>
<line x1="332.60" y1="546.00" x2="332.60" y2="549.00" stroke="#111" stroke-width="1.0" stroke-linecap="butt"/>
<line x1="417.60" y1="546.00" x2="417.60" y2="549.00" stroke="#111" stroke-width="1.0" stroke-linecap="butt"/>
<line x1="502.60" y1="546.00" x2="502.60" y2="549.00" stroke="#111" stroke-width="1.0" stroke-linecap="butt"/>
<text x="218.80" y="476.00" font-size="9.25" text-anchor="middle" transform="rotate(-90 218.80 476.00)">Cell count in BM (x10<tspan font-size="5.74" dy="-3.2">5</tspan><tspan dy="3.2">)</tspan></text>
<rect x="259.50" y="523.75" width="15.35" height="22.25" fill="#fff" stroke="#111" stroke-width="0.9"/>
<rect x="274.85" y="486.75" width="15.35" height="59.25" fill="#d6d6d6" stroke="#111" stroke-width="0.9"/>
<rect x="290.20" y="486.75" width="15.35" height="59.25" fill="#000" stroke="#111" stroke-width="0.9"/>
<rect x="305.55" y="465.50" width="15.35" height="80.50" fill="url(#hatch)" stroke="#111" stroke-width="0.9"/>
<line x1="267.18" y1="517.50" x2="267.18" y2="530.00" stroke="#222" stroke-width="1.0" stroke-linecap="butt"/>
<line x1="265.38" y1="517.50" x2="268.98" y2="517.50" stroke="#222" stroke-width="1.0" stroke-linecap="butt"/>
<line x1="265.38" y1="530.00" x2="268.98" y2="530.00" stroke="#222" stroke-width="1.0" stroke-linecap="butt"/>
<line x1="282.53" y1="473.25" x2="282.53" y2="500.00" stroke="#222" stroke-width="1.0" stroke-linecap="butt"/>
<line x1="280.73" y1="473.25" x2="284.33" y2="473.25" stroke="#222" stroke-width="1.0" stroke-linecap="butt"/>
<line x1="280.73" y1="500.00" x2="284.33" y2="500.00" stroke="#222" stroke-width="1.0" stroke-linecap="butt"/>
<line x1="297.88" y1="474.50" x2="297.88" y2="486.75" stroke="#222" stroke-width="1.0" stroke-linecap="butt"/>
<line x1="296.07" y1="474.50" x2="299.68" y2="474.50" stroke="#222" stroke-width="1.0" stroke-linecap="butt"/>
<line x1="313.23" y1="450.00" x2="313.23" y2="480.00" stroke="#222" stroke-width="1.0" stroke-linecap="butt"/>
<line x1="311.43" y1="450.00" x2="315.03" y2="450.00" stroke="#222" stroke-width="1.0" stroke-linecap="butt"/>
<line x1="311.43" y1="480.00" x2="315.03" y2="480.00" stroke="#222" stroke-width="1.0" stroke-linecap="butt"/>
<rect x="343.75" y="524.25" width="15.50" height="21.75" fill="#fff" stroke="#111" stroke-width="0.9"/>
<rect x="359.25" y="508.00" width="15.50" height="38.00" fill="#d6d6d6" stroke="#111" stroke-width="0.9"/>
<rect x="374.75" y="501.25" width="15.50" height="44.75" fill="#000" stroke="#111" stroke-width="0.9"/>
<rect x="390.25" y="500.50" width="15.50" height="45.50" fill="url(#hatch)" stroke="#111" stroke-width="0.9"/>
<line x1="351.50" y1="520.00" x2="351.50" y2="528.25" stroke="#222" stroke-width="1.0" stroke-linecap="butt"/>
<line x1="349.70" y1="520.00" x2="353.30" y2="520.00" stroke="#222" stroke-width="1.0" stroke-linecap="butt"/>
<line x1="349.70" y1="528.25" x2="353.30" y2="528.25" stroke="#222" stroke-width="1.0" stroke-linecap="butt"/>
<line x1="367.00" y1="496.25" x2="367.00" y2="519.50" stroke="#222" stroke-width="1.0" stroke-linecap="butt"/>
<line x1="365.20" y1="496.25" x2="368.80" y2="496.25" stroke="#222" stroke-width="1.0" stroke-linecap="butt"/>
<line x1="365.20" y1="519.50" x2="368.80" y2="519.50" stroke="#222" stroke-width="1.0" stroke-linecap="butt"/>
<line x1="382.50" y1="476.25" x2="382.50" y2="501.25" stroke="#222" stroke-width="1.0" stroke-linecap="butt"/>
<line x1="380.70" y1="476.25" x2="384.30" y2="476.25" stroke="#222" stroke-width="1.0" stroke-linecap="butt"/>
<line x1="398.00" y1="480.00" x2="398.00" y2="521.00" stroke="#222" stroke-width="1.0" stroke-linecap="butt"/>
<line x1="396.20" y1="480.00" x2="399.80" y2="480.00" stroke="#222" stroke-width="1.0" stroke-linecap="butt"/>
<line x1="396.20" y1="521.00" x2="399.80" y2="521.00" stroke="#222" stroke-width="1.0" stroke-linecap="butt"/>
<rect x="428.25" y="524.25" width="15.60" height="21.75" fill="#fff" stroke="#111" stroke-width="0.9"/>
<rect x="443.85" y="501.75" width="15.60" height="44.25" fill="#d6d6d6" stroke="#111" stroke-width="0.9"/>
<rect x="459.45" y="519.25" width="15.60" height="26.75" fill="#000" stroke="#111" stroke-width="0.9"/>
<rect x="475.05" y="521.25" width="15.60" height="24.75" fill="url(#hatch)" stroke="#111" stroke-width="0.9"/>
<line x1="436.05" y1="519.25" x2="436.05" y2="529.00" stroke="#222" stroke-width="1.0" stroke-linecap="butt"/>
<line x1="434.25" y1="519.25" x2="437.85" y2="519.25" stroke="#222" stroke-width="1.0" stroke-linecap="butt"/>
<line x1="434.25" y1="529.00" x2="437.85" y2="529.00" stroke="#222" stroke-width="1.0" stroke-linecap="butt"/>
<line x1="451.65" y1="486.25" x2="451.65" y2="517.50" stroke="#222" stroke-width="1.0" stroke-linecap="butt"/>
<line x1="449.85" y1="486.25" x2="453.45" y2="486.25" stroke="#222" stroke-width="1.0" stroke-linecap="butt"/>
<line x1="449.85" y1="517.50" x2="453.45" y2="517.50" stroke="#222" stroke-width="1.0" stroke-linecap="butt"/>
<line x1="467.25" y1="504.25" x2="467.25" y2="519.25" stroke="#222" stroke-width="1.0" stroke-linecap="butt"/>
<line x1="465.45" y1="504.25" x2="469.05" y2="504.25" stroke="#222" stroke-width="1.0" stroke-linecap="butt"/>
<line x1="482.85" y1="510.50" x2="482.85" y2="532.00" stroke="#222" stroke-width="1.0" stroke-linecap="butt"/>
<line x1="481.05" y1="510.50" x2="484.65" y2="510.50" stroke="#222" stroke-width="1.0" stroke-linecap="butt"/>
<line x1="481.05" y1="532.00" x2="484.65" y2="532.00" stroke="#222" stroke-width="1.0" stroke-linecap="butt"/>
<line x1="263.00" y1="414.50" x2="311.75" y2="414.50" stroke="#222" stroke-width="1.1" stroke-linecap="butt"/>
<line x1="263.00" y1="414.10" x2="263.00" y2="441.25" stroke="#222" stroke-width="1.1" stroke-linecap="butt"/>
<line x1="282.50" y1="414.50" x2="282.50" y2="427.00" stroke="#222" stroke-width="1.1" stroke-linecap="butt"/>
<line x1="298.00" y1="414.50" x2="298.00" y2="427.00" stroke="#222" stroke-width="1.1" stroke-linecap="butt"/>
<line x1="311.75" y1="414.50" x2="311.75" y2="427.00" stroke="#222" stroke-width="1.1" stroke-linecap="butt"/>
<text x="281.00" y="438.30" font-size="8.5" font-weight="bold" text-anchor="middle" stroke-width="0">**</text>
<text x="297.00" y="438.30" font-size="8.5" font-weight="bold" text-anchor="middle" stroke-width="0">**</text>
<text x="311.75" y="438.30" font-size="8.5" font-weight="bold" text-anchor="middle" stroke-width="0">**</text>
<line x1="346.25" y1="414.50" x2="366.25" y2="414.50" stroke="#222" stroke-width="1.1" stroke-linecap="butt"/>
<line x1="346.25" y1="414.10" x2="346.25" y2="441.25" stroke="#222" stroke-width="1.1" stroke-linecap="butt"/>
<line x1="366.25" y1="414.50" x2="366.25" y2="427.00" stroke="#222" stroke-width="1.1" stroke-dasharray="1.1 0.7" stroke-linecap="butt"/>
<text x="365.75" y="438.30" font-size="8.5" font-weight="bold" text-anchor="middle" stroke-width="0">**</text>
<line x1="435.00" y1="444.25" x2="455.00" y2="444.25" stroke="#222" stroke-width="1.1" stroke-linecap="butt"/>
<line x1="435.00" y1="443.85" x2="435.00" y2="471.25" stroke="#222" stroke-width="1.1" stroke-linecap="butt"/>
<line x1="455.00" y1="444.25" x2="455.00" y2="457.50" stroke="#222" stroke-width="1.1" stroke-dasharray="1.1 0.7" stroke-linecap="butt"/>
<text x="454.25" y="472.10" font-size="8.5" font-weight="bold" text-anchor="middle" stroke-width="0">**</text>
<rect x="465.75" y="414.35" width="4.6" height="4.6" fill="#fff" stroke="#111" stroke-width="0.8"/>
<text x="472.50" y="419.99" font-size="9" text-anchor="start">Control</text>
<rect x="465.75" y="428.35" width="4.6" height="4.6" fill="#d6d6d6" stroke="#111" stroke-width="0.8"/>
<text x="472.50" y="433.99" font-size="9" text-anchor="start">Nras</text>
<rect x="465.75" y="442.60" width="4.6" height="4.6" fill="#000" stroke="#111" stroke-width="0.8"/>
<text x="472.50" y="448.24" font-size="9" text-anchor="start">CM</text>
<rect x="465.75" y="456.35" width="4.6" height="4.6" fill="url(#hatch2)" stroke="#111" stroke-width="0.8"/>
<text x="472.50" y="461.99" font-size="9" text-anchor="start">Nras/CM</text>
<text x="290.00" y="559.20" font-size="9" font-weight="bold" text-anchor="middle">CMP</text>
<text x="375.00" y="559.20" font-size="9" font-weight="bold" text-anchor="middle">MEP</text>
<text x="460.00" y="559.20" font-size="9" font-weight="bold" text-anchor="middle">GMP</text>
</svg>
</body>
</html>
